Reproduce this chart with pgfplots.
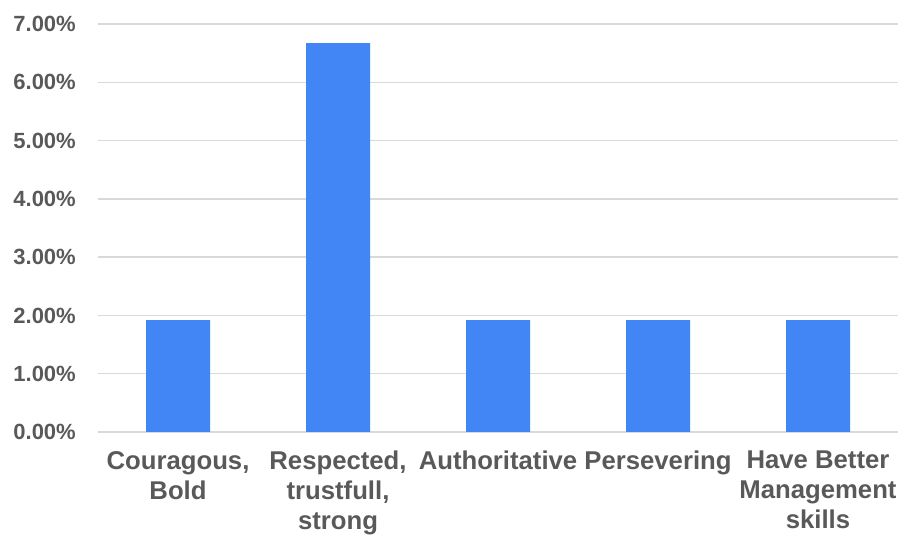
\documentclass[border=0pt]{standalone}
\usepackage{pgfplots}
\pgfplotsset{compat=1.18}
\usepackage{fontspec}
\setmainfont{Liberation Sans}
\definecolor{barblue}{HTML}{4285F4}
\definecolor{txtgray}{HTML}{595959}
\definecolor{gridgray}{HTML}{D9D9D9}
\begin{document}
\begin{tikzpicture}
\begin{axis}[
  at={(98bp,116bp)}, anchor=south west,
  scale only axis, width=800bp, height=408bp,
  xmin=-0.5, xmax=4.5, ymin=0, ymax=7,
  ybar, bar width=64bp,
  xtick={0,1,2,3,4},
  xticklabels={{Couragous,\\Bold},{Respected,\\trustfull,\\strong},Authoritative,Persevering,{Have Better\\Management\\skills}},
  ytick={0,1,2,3,4,5,6,7},
  yticklabel={\pgfmathprintnumber[fixed,fixed zerofill,precision=2]{\tick}\%},
  /pgf/number format/assume math mode=true,
  major tick length=0pt,
  axis line style={draw=none},
  ymajorgrids, major grid style={draw=gridgray, line width=1.5bp},
  xticklabel style={font=\fontsize{25.7bp}{30bp}\selectfont\bfseries, text=txtgray, align=center, inner sep=0pt, anchor=north, yshift=-19bp},
  yticklabel style={font=\fontsize{22bp}{26bp}\selectfont\bfseries, text=txtgray, inner sep=0pt, anchor=east, xshift=-22bp},
]
\addplot[fill=barblue, draw=none] coordinates {(0,1.92) (1,6.67) (2,1.92) (3,1.92) (4,1.92)};
\end{axis}
\pgfresetboundingbox
\path[use as bounding box] (0,0) rectangle (924bp,548bp);
\end{tikzpicture}
\end{document}
